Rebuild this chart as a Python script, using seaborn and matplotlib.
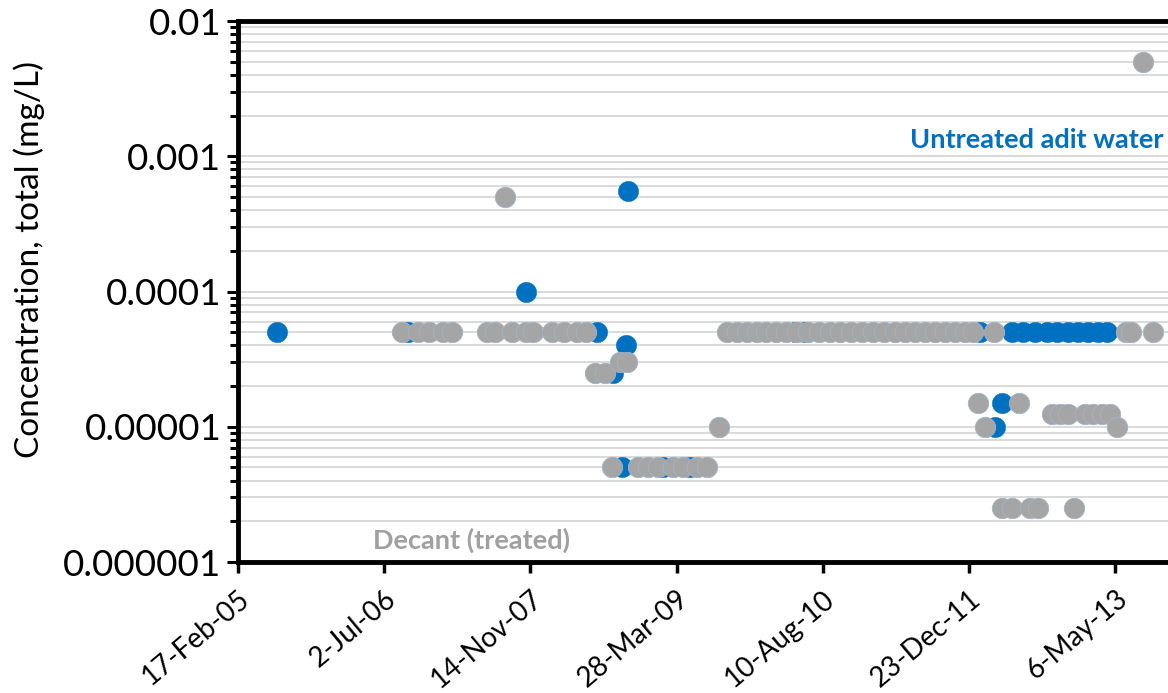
import numpy as np
import pandas as pd
import matplotlib
matplotlib.use("Agg")
import matplotlib.pyplot as plt
import matplotlib.ticker as mticker
import seaborn as sns

# Sample dates are Excel serial day numbers; concentrations in mg/L
untreated_serial = [38533, 38981, 39384, 39627, 39682, 39726, 39733, 39712, 39852, 39945,
                    40304, 40338, 40936, 40987, 41011,
                    41045, 41083, 41124, 41165, 41202, 41237, 41271, 41305, 41339, 41373]
untreated_conc = [5e-5, 5e-5, 1e-4, 5e-5, 2.5e-5, 4e-5, 5.5e-4, 5e-6, 5e-6, 5e-6,
                  5e-5, 5e-5, 5e-5, 1e-5, 1.5e-5,
                  5e-5, 5e-5, 5e-5, 5e-5, 5e-5, 5e-5, 5e-5, 5e-5, 5e-5, 5e-5]

decant_serial = [38960, 39015, 39053, 39101, 39131, 39251, 39278, 39336, 39384, 39408,
                 39473, 39514, 39559, 39589,
                 39313,
                 39620, 39654,
                 39706, 39729,
                 39678, 39767, 39801, 39835, 39887, 39921, 39969, 40003,
                 40044,
                 40071, 40105, 40140, 40174, 40204, 40239, 40273, 40310, 40348, 40386,
                 40423, 40457, 40495, 40533, 40570, 40608, 40645, 40680, 40714, 40748,
                 40782, 40816, 40850, 40885, 40912, 40984,
                 40929, 41069,
                 40953,
                 41014, 41045, 41107, 41134, 41257,
                 41185, 41209, 41237, 41295, 41322, 41353, 41380,
                 41407,
                 41438, 41455, 41527,
                 41496]
decant_conc = [5e-5] * 14 + [5e-4] + [2.5e-5] * 2 + [3e-5] * 2 + [5e-6] * 8 + [1e-5] \
    + [5e-5] * 26 + [1.5e-5] * 2 + [1e-5] + [2.5e-6] * 5 + [1.25e-5] * 7 + [1e-5] \
    + [5e-5] * 3 + [5e-3]

tick_serials = [38400, 38900, 39400, 39900, 40400, 40900, 41400]
y_ticks = [1e-6, 1e-5, 1e-4, 1e-3, 1e-2]
y_tick_labels = ["0.000001", "0.00001", "0.0001", "0.001", "0.01"]

BLUE = "#0070c0"
GREY = "#a5a5a5"


def serial_to_date(s):
    return pd.to_datetime(np.asarray(s), unit="D", origin="1899-12-30")


untreated = pd.DataFrame({"date": serial_to_date(untreated_serial), "conc": untreated_conc})
decant = pd.DataFrame({"date": serial_to_date(decant_serial), "conc": decant_conc})

sns.set_style("white")
plt.rcParams["font.family"] = ["Lato", "DejaVu Sans"]
plt.rcParams["text.color"] = "black"
plt.rcParams["axes.labelcolor"] = "black"
plt.rcParams["xtick.color"] = "black"
plt.rcParams["ytick.color"] = "black"

fig = plt.figure(figsize=(11.68, 6.93), dpi=100)
ax = fig.add_axes([238 / 1168, 1 - 562 / 693, 1 - 238 / 1168, (562 - 21) / 693])

ax.set_yscale("log")
ax.set_ylim(1e-6, 1e-2)
ax.set_xlim(serial_to_date([38400])[0], serial_to_date([41580])[0])

# light grey grid on every decade step
minor_vals = [m * 10.0 ** e for e in range(-6, -2) for m in range(2, 10)]
for v in minor_vals + y_ticks:
    ax.axhline(v, color="#d9d9d9", lw=1.4, zorder=0)

sns.scatterplot(data=untreated, x="date", y="conc", ax=ax, color=BLUE, s=215,
                edgecolor=BLUE, linewidth=0.3, zorder=3, legend=False)
sns.scatterplot(data=decant, x="date", y="conc", ax=ax, color=GREY, s=215,
                edgecolor="#9fb4c8", linewidth=0.6, zorder=4, legend=False)

ax.set_yticks(y_ticks)
ax.set_yticklabels(y_tick_labels)
ax.yaxis.set_minor_locator(mticker.FixedLocator(minor_vals))
ax.yaxis.set_minor_formatter(mticker.NullFormatter())

ax.set_xticks(serial_to_date(tick_serials))
ax.set_xticklabels([d.strftime("%-d-%b-%y") for d in serial_to_date(tick_serials)],
                   rotation=40, ha="right", rotation_mode="anchor")

ax.tick_params(axis="y", which="major", direction="out", length=8, width=2.2,
               color="black", labelcolor="black", labelsize=26.5, pad=4, left=True)
ax.tick_params(axis="y", which="minor", direction="out", length=6, width=2.2,
               color="black", left=True)
ax.tick_params(axis="x", which="major", direction="out", length=8, width=2.5,
               color="black", labelcolor="black", labelsize=20, pad=9, bottom=True)

for side in ["left", "bottom", "top"]:
    ax.spines[side].set_visible(True)
    ax.spines[side].set_color("black")
    ax.spines[side].set_linewidth(3.5)
ax.spines["right"].set_visible(False)

ax.set_xlabel("")
ax.set_ylabel("Concentration, total (mg/L)", fontsize=24, color="black")
ax.yaxis.set_label_coords(-0.2075, 0.56)

ax.text(0.995, 0.78, "Untreated adit water", transform=ax.transAxes, ha="right",
        va="center", color=BLUE, fontsize=19.5, fontweight="bold")
ax.text(0.145, 0.04, "Decant (treated)", transform=ax.transAxes, ha="left",
        va="center", color="#a0a0a0", fontsize=19.5, fontweight="bold")

fig.savefig("out.png", dpi=100)
